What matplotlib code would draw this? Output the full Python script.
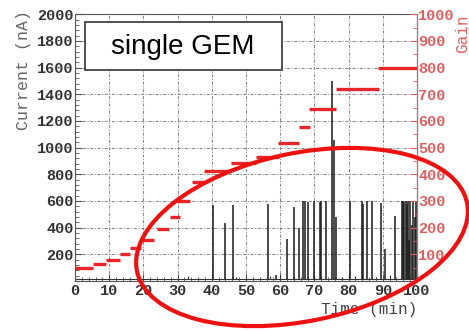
import matplotlib
matplotlib.use("Agg")
import matplotlib.pyplot as plt
from matplotlib.patches import Ellipse, Rectangle
from matplotlib.transforms import IdentityTransform
from matplotlib.ticker import MultipleLocator

# Gain steps (right axis)
step_start = [0, 5.2, 9.1, 13.1, 16.0, 19.2, 24.0, 27.7, 29.8, 34.1, 37.6, 45.6, 53.0, 59.5, 65.4, 68.3, 76.2, 88.6]
step_end   = [5.2, 9.1, 13.1, 16.0, 19.2, 23.1, 27.6, 30.6, 33.6, 38.0, 45.7, 53.0, 59.6, 65.6, 68.6, 76.4, 89.0, 100]
step_gain  = [50, 62, 79, 100, 122, 154, 194, 241, 300, 372, 414, 444, 464, 519, 578, 644, 719, 800]

# Current spikes (left axis)
spike_t    = [40.3, 43.8, 46.3, 56.3, 58.8, 62.1, 63.9, 65.6, 66.8, 67.3, 68.1, 69.8, 71.6, 72.0,
              73.4, 75.1, 75.6, 76.2, 80.4, 83.8, 84.3, 85.3, 87.0, 89.4, 90.6, 93.6,
              95.5, 95.9, 96.3, 96.7, 97.1, 97.5, 97.7, 98.1, 98.5, 98.9, 99.3, 99.7]
spike_peak = [570, 433, 570, 577, 45, 313, 557, 400, 600, 600, 595, 600, 595, 600,
              600, 1500, 1060, 480, 600, 600, 575, 600, 600, 585, 240, 487,
              600, 600, 590, 600, 580, 600, 307, 600, 420, 600, 482, 600]
# small baseline bumps
bump_t    = [8, 12, 22, 28, 33, 36, 38, 47, 52, 54, 57, 60, 64, 70, 78, 82, 88, 92]
bump_peak = [18, 15, 20, 18, 40, 22, 18, 30, 22, 25, 35, 50, 30, 35, 30, 40, 30, 45]
baseline = 12

x_ticks = list(range(0, 101, 10))
cur_ticks = list(range(200, 2001, 200))
gain_ticks = list(range(100, 1001, 100))

RED = "#e8262a"
LRED = "#e06060"
mono = "Liberation Mono"

fig = plt.figure(figsize=(4.69, 3.31), dpi=100)
ax = fig.add_axes([0.160, 0.151, 0.729, 0.806])
ax2 = ax.twinx()

ax.set_xlim(0, 100)
ax.set_ylim(0, 2000)
ax2.set_ylim(0, 1000)

ax.grid(True, which="major", color="#888888", linestyle=(0, (3, 1.5, 1, 1.5)), linewidth=0.75)
ax.set_axisbelow(True)

ax.hlines([baseline], 0, 100, color="#333333", linewidth=0.8)
ax.vlines(bump_t, baseline, bump_peak, color="#333333", linewidth=0.8)
ax.vlines(spike_t, baseline, spike_peak, color="#1a1a1a", linewidth=1.3, alpha=0.85)

ax2.hlines(step_gain, step_start, step_end, color=RED, linewidth=2.4)

ax.set_xticks(x_ticks)
ax.set_yticks(cur_ticks)
ax2.set_yticks(gain_ticks)
ax.xaxis.set_minor_locator(MultipleLocator(2))
ax.yaxis.set_minor_locator(MultipleLocator(40))
ax2.yaxis.set_minor_locator(MultipleLocator(50))

for lab in ax.get_xticklabels() + ax.get_yticklabels():
    lab.set_fontfamily(mono)
    lab.set_fontweight("bold")
    lab.set_fontsize(11)
    lab.set_color("#333333")
for lab in ax2.get_yticklabels():
    lab.set_fontfamily(mono)
    lab.set_fontweight("bold")
    lab.set_fontsize(11)
    lab.set_color(LRED)

ax.tick_params(axis="both", which="major", direction="in", length=5, width=0.8, color="#555555", pad=1)
ax.tick_params(axis="both", which="minor", direction="in", length=3, width=0.6, color="#555555")
ax.tick_params(axis="y", which="both", right=False)
ax.tick_params(axis="x", which="both", top=False, pad=2)
ax2.tick_params(axis="y", which="major", direction="in", length=5, width=0.8, color=LRED, pad=1)
ax2.tick_params(axis="y", which="minor", direction="in", length=3, width=0.6, color=LRED)

for s in ["left", "bottom", "top"]:
    ax.spines[s].set_color("#555555")
    ax.spines[s].set_linewidth(0.8)
ax2.spines["right"].set_color(LRED)
ax2.spines["right"].set_linewidth(0.8)
for s in ["left", "bottom", "top"]:
    ax2.spines[s].set_visible(False)

ax.set_ylabel("Current (nA)", family=mono, fontsize=12, color="#666666", loc="top", labelpad=2)
ax2.set_ylabel("Gain", family=mono, fontsize=11.5, color=LRED, loc="top", labelpad=0)
ax.set_xlabel("Time (min)", family=mono, fontsize=11.5, color="#444444", loc="right", labelpad=3)
ax.yaxis.set_label_coords(-0.13, 1.015, transform=ax.transAxes)
ax.yaxis.label.set_verticalalignment("bottom")

ax2.add_patch(Rectangle((0.029, 0.791), 0.576, 0.18, transform=ax.transAxes,
                        facecolor="white", edgecolor="#333333", linewidth=1.2, zorder=9))
ax2.text(0.316, 0.879, "single GEM", transform=ax.transAxes, ha="center", va="center",
         family="Liberation Sans", fontsize=20, color="black", zorder=10)

ell = Ellipse((302, 94), 337, 168, angle=11.75, transform=IdentityTransform(),
              fill=False, edgecolor="#ee1111", linewidth=3.0, zorder=20, clip_on=False)
fig.patches.append(ell)

fig.savefig("out.png", dpi=100)
